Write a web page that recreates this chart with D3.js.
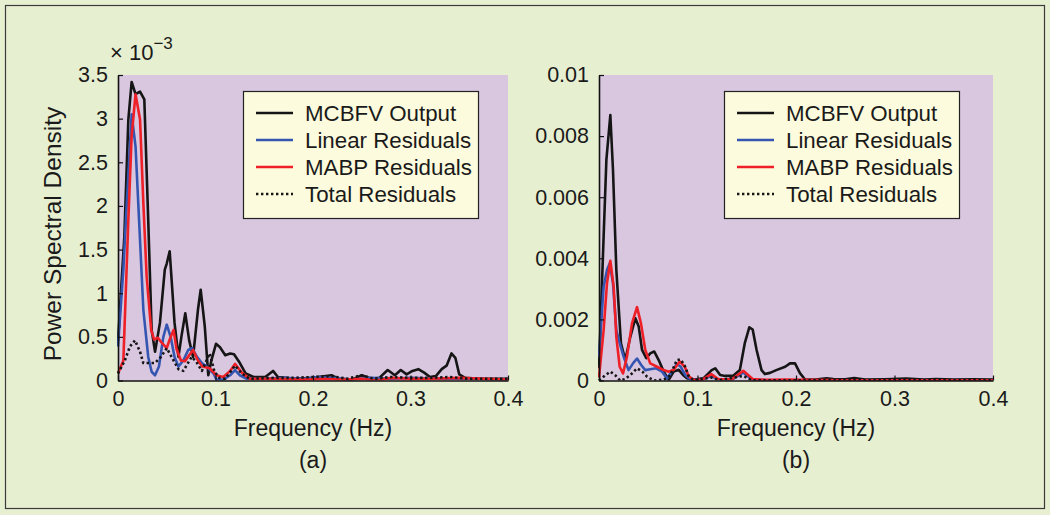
<!DOCTYPE html>
<html>
<head>
<meta charset="utf-8">
<script src="https://cdn.jsdelivr.net/npm/d3@7/dist/d3.min.js"></script>
<style>
  html, body { margin: 0; padding: 0; background: #e7efd1; }
  svg { display: block; }
  text { font-family: "Liberation Sans", Arial, Helvetica, sans-serif; fill: #1a1a1a; }
</style>
</head>
<body>
<svg id="chart" width="1050" height="515"></svg>
<script>
// ---------------- DATA ----------------
// Panel (a): values in units of 1e-3, [frequency Hz, PSD]
const aMcbfv = [[0,0.45],[0.0065,1.65],[0.0106,2.99],[0.014,3.42],[0.018,3.28],[0.0226,3.31],[0.027,3.22],[0.031,1.84],[0.0345,0.58],[0.038,0.33],[0.043,0.66],[0.048,1.27],[0.05,1.34],[0.053,1.48],[0.058,0.66],[0.062,0.27],[0.065,0.50],[0.069,0.77],[0.073,0.46],[0.077,0.27],[0.082,0.81],[0.0848,1.04],[0.089,0.62],[0.0926,0.06],[0.096,0.24],[0.1005,0.42],[0.1046,0.38],[0.11,0.29],[0.115,0.31],[0.119,0.30],[0.125,0.20],[0.131,0.08],[0.139,0.04],[0.151,0.04],[0.159,0.11],[0.164,0.04],[0.182,0.02],[0.199,0.03],[0.219,0.06],[0.226,0.02],[0.24,0.01],[0.25,0.06],[0.26,0.02],[0.268,0.03],[0.2766,0.12],[0.284,0.06],[0.29,0.12],[0.296,0.07],[0.302,0.11],[0.308,0.13],[0.314,0.09],[0.32,0.04],[0.326,0.05],[0.332,0.13],[0.337,0.17],[0.342,0.31],[0.346,0.26],[0.35,0.07],[0.356,0.03],[0.37,0.02],[0.4,0.02]];
const aLinear = [[0,0.39],[0.0055,1.27],[0.009,2.03],[0.014,3.05],[0.018,2.68],[0.0216,1.84],[0.026,0.81],[0.031,0.27],[0.0345,0.10],[0.038,0.06],[0.042,0.16],[0.0465,0.50],[0.05,0.64],[0.054,0.50],[0.058,0.27],[0.062,0.16],[0.067,0.23],[0.072,0.35],[0.076,0.37],[0.081,0.27],[0.086,0.20],[0.091,0.16],[0.098,0.08],[0.101,0.01],[0.108,0.01],[0.115,0.06],[0.12,0.12],[0.125,0.06],[0.132,0.02],[0.15,0.02],[0.17,0.03],[0.19,0.02],[0.205,0.04],[0.22,0.03],[0.24,0.01],[0.26,0.03],[0.28,0.02],[0.3,0.03],[0.33,0.02],[0.36,0.02],[0.4,0.01]];
const aMabp = [[0,0.08],[0.0055,0.23],[0.0106,1.84],[0.014,2.80],[0.018,3.28],[0.0226,2.99],[0.026,2.03],[0.0294,1.19],[0.034,0.58],[0.037,0.47],[0.041,0.49],[0.045,0.43],[0.05,0.37],[0.053,0.47],[0.057,0.58],[0.06,0.36],[0.0646,0.23],[0.0687,0.22],[0.073,0.29],[0.077,0.35],[0.082,0.23],[0.0865,0.16],[0.094,0.14],[0.101,0.06],[0.108,0.04],[0.115,0.11],[0.12,0.19],[0.127,0.09],[0.135,0.02],[0.16,0.02],[0.19,0.01],[0.21,0.02],[0.23,0.01],[0.25,0.02],[0.265,0.0],[0.28,0.03],[0.3,0.02],[0.32,0.02],[0.35,0.03],[0.4,0.01]];
const aTotal = [[0,0.08],[0.007,0.23],[0.0123,0.39],[0.0174,0.46],[0.0226,0.33],[0.026,0.2],[0.031,0.2],[0.038,0.2],[0.044,0.27],[0.05,0.37],[0.056,0.25],[0.062,0.13],[0.067,0.11],[0.0755,0.27],[0.08,0.22],[0.086,0.11],[0.094,0.31],[0.099,0.1],[0.104,0.03],[0.11,0.02],[0.12,0.17],[0.127,0.08],[0.135,0.02],[0.16,0.03],[0.18,0.03],[0.2,0.04],[0.219,0.05],[0.235,0.02],[0.25,0.06],[0.262,0.02],[0.28,0.04],[0.3,0.03],[0.32,0.03],[0.34,0.04],[0.36,0.02],[0.4,0.02]];

// Panel (b): values in units of 1e-3, [frequency Hz, PSD]
const bMcbfv = [[0,0.4],[0.0047,4.71],[0.0075,7.22],[0.0115,8.69],[0.0142,6.89],[0.0176,3.62],[0.0223,1.22],[0.0267,0.67],[0.0318,1.43],[0.0369,2.04],[0.0403,1.77],[0.0437,1.0],[0.048,0.73],[0.052,0.89],[0.056,0.95],[0.0606,0.67],[0.0657,0.29],[0.0708,0.02],[0.0758,0.29],[0.081,0.35],[0.0853,0.18],[0.0893,0.07],[0.095,0.02],[0.106,0.07],[0.1144,0.34],[0.118,0.40],[0.123,0.18],[0.128,0.15],[0.136,0.15],[0.143,0.34],[0.148,1.22],[0.1526,1.74],[0.156,1.67],[0.16,1.0],[0.165,0.34],[0.1685,0.21],[0.1736,0.25],[0.18,0.34],[0.189,0.45],[0.1939,0.56],[0.199,0.56],[0.204,0.24],[0.209,0.04],[0.22,0.03],[0.231,0.07],[0.238,0.05],[0.25,0.04],[0.259,0.08],[0.27,0.03],[0.29,0.04],[0.312,0.06],[0.33,0.03],[0.342,0.05],[0.36,0.03],[0.38,0.04],[0.4,0.03]];
const bLinear = [[0,0.78],[0.0047,3.07],[0.0081,3.62],[0.0109,3.84],[0.0142,3.18],[0.0176,1.65],[0.021,1.22],[0.025,0.78],[0.03,0.34],[0.0345,0.56],[0.0386,0.72],[0.043,0.5],[0.047,0.34],[0.052,0.37],[0.058,0.40],[0.064,0.29],[0.069,0.07],[0.074,0.29],[0.079,0.54],[0.083,0.45],[0.0876,0.18],[0.093,0.02],[0.105,0.02],[0.114,0.15],[0.12,0.04],[0.135,0.03],[0.1465,0.26],[0.155,0.03],[0.17,0.01],[0.4,0.01]];
const bMabp = [[0,0.1],[0.0047,1.65],[0.0081,3.18],[0.0115,3.92],[0.0149,3.07],[0.0176,1.43],[0.021,0.45],[0.0244,0.23],[0.0284,0.78],[0.0335,1.87],[0.0386,2.40],[0.0426,1.87],[0.047,1.0],[0.052,0.56],[0.059,0.45],[0.0657,0.34],[0.0708,0.29],[0.0758,0.35],[0.082,0.62],[0.087,0.45],[0.091,0.15],[0.096,0.02],[0.105,0.03],[0.114,0.21],[0.121,0.05],[0.135,0.04],[0.1465,0.32],[0.156,0.05],[0.17,0.02],[0.19,0.03],[0.25,0.01],[0.4,0.01]];
const bTotal = [[0,0],[0.0064,0.17],[0.0115,0.29],[0.0166,0.17],[0.0215,0.0],[0.0267,0.05],[0.0335,0.23],[0.0386,0.40],[0.044,0.29],[0.049,0.12],[0.056,0.0],[0.066,0.03],[0.0724,0.17],[0.079,0.67],[0.0827,0.69],[0.0868,0.5],[0.091,0.15],[0.096,0.01],[0.114,0.1],[0.122,0.01],[0.1465,0.15],[0.155,0.01],[0.4,0.01]];

const seriesNames = ["MCBFV Output", "Linear Residuals", "MABP Residuals", "Total Residuals"];
const xTicks = [0, 0.1, 0.2, 0.3, 0.4];
const xTickLabels = ["0", "0.1", "0.2", "0.3", "0.4"];
const aYTicks = [0, 0.5, 1, 1.5, 2, 2.5, 3, 3.5];
const aYTickLabels = ["0", "0.5", "1", "1.5", "2", "2.5", "3", "3.5"];
const bYTicks = [0, 2, 4, 6, 8, 10];
const bYTickLabels = ["0", "0.002", "0.004", "0.006", "0.008", "0.01"];
const xTitle = "Frequency (Hz)";
const yTitle = "Power Spectral Density";
const panelLabels = ["(a)", "(b)"];

// ---------------- STYLE ----------------
const styles = [
  { color: "#151515", dash: null },
  { color: "#3556b0", dash: null },
  { color: "#ee1f26", dash: null },
  { color: "#151515", dash: "2.4,2.6" }
];
const plotBg = "#d9c7e0";
const legendBg = "#fdfbdd";

const svg = d3.select("#chart");
svg.append("rect").attr("x", 5.5).attr("y", 5.5).attr("width", 1039).attr("height", 503)
  .attr("fill", "#e7efd1").attr("stroke", "#3a3a3a").attr("stroke-width", 1.2);

const plotTop = 75, plotBottom = 380.5;

function panel(cfg) {
  const x = d3.scaleLinear().domain([0, 0.4]).range([cfg.x0, cfg.x1]);
  const y = d3.scaleLinear().domain([0, cfg.yMax]).range([plotBottom, plotTop]);
  const g = svg.append("g");

  g.append("rect").attr("x", cfg.x0).attr("y", plotTop)
    .attr("width", cfg.x1 - cfg.x0).attr("height", plotBottom - plotTop).attr("fill", plotBg);

  const clipId = "clip" + cfg.id;
  svg.append("clipPath").attr("id", clipId).append("rect")
    .attr("x", cfg.x0 - 1).attr("y", plotTop - 2).attr("width", cfg.x1 - cfg.x0 + 2).attr("height", plotBottom - plotTop + 2);

  const line = d3.line().x(d => x(d[0])).y(d => y(Math.max(0, d[1]))).curve(d3.curveLinear);
  const lines = g.append("g").attr("clip-path", `url(#${clipId})`);
  cfg.series.forEach((s, i) => {
    lines.append("path").datum(s).attr("d", line)
      .attr("fill", "none").attr("stroke", styles[i].color)
      .attr("stroke-width", 2.6).attr("stroke-linejoin", "round")
      .attr("stroke-dasharray", styles[i].dash);
  });

  // axes
  const xAxis = d3.axisBottom(x).tickValues(xTicks).tickFormat((d, i) => xTickLabels[i])
    .tickSizeInner(-5).tickSizeOuter(0).tickPadding(10);
  const yAxis = d3.axisLeft(y).tickValues(cfg.yTicks).tickFormat((d, i) => cfg.yLabels[i])
    .tickSizeInner(-5).tickSizeOuter(0).tickPadding(10);
  const gx = g.append("g").attr("transform", `translate(0,${plotBottom})`).call(xAxis);
  const gy = g.append("g").attr("transform", `translate(${cfg.x0},0)`).call(yAxis);
  [gx, gy].forEach(a => {
    a.select(".domain").attr("stroke", "#111").attr("stroke-width", 1.6);
    a.selectAll(".tick line").attr("stroke", "#111").attr("stroke-width", 1.2);
    a.selectAll(".tick text").attr("font-size", 21.5).attr("fill", "#1a1a1a")
      .attr("font-family", '"Liberation Sans", Arial, sans-serif');
  });

  g.append("text").attr("x", (cfg.x0 + cfg.x1) / 2).attr("y", 436)
    .attr("text-anchor", "middle").attr("font-size", 23).text(xTitle);
  g.append("text").attr("x", (cfg.x0 + cfg.x1) / 2).attr("y", 468)
    .attr("text-anchor", "middle").attr("font-size", 23).text(cfg.label);

  // legend
  const lx = cfg.x0 + 125, ly = 91, lw = 235, lh = 127;
  const lg = g.append("g");
  lg.append("rect").attr("x", lx + 0.5).attr("y", ly + 0.5).attr("width", lw).attr("height", lh)
    .attr("fill", legendBg).attr("stroke", "#222").attr("stroke-width", 1.2);
  seriesNames.forEach((name, i) => {
    const cy = ly + 22 + i * 27;
    lg.append("line").attr("x1", lx + 13).attr("x2", lx + 50).attr("y1", cy).attr("y2", cy)
      .attr("stroke", styles[i].color).attr("stroke-width", 2.4)
      .attr("stroke-dasharray", styles[i].dash);
    lg.append("text").attr("x", lx + 62).attr("y", cy + 8).attr("font-size", 22.3).text(name);
  });
  return { x, y };
}

panel({ id: "a", x0: 118, x1: 508, yMax: 3.5, yTicks: aYTicks, yLabels: aYTickLabels,
        series: [aMcbfv, aLinear, aMabp, aTotal], label: panelLabels[0] });
panel({ id: "b", x0: 599, x1: 993, yMax: 10, yTicks: bYTicks, yLabels: bYTickLabels,
        series: [bMcbfv, bLinear, bMabp, bTotal], label: panelLabels[1] });

// y title and exponent
svg.append("text").attr("transform", "translate(61,234) rotate(-90)")
  .attr("text-anchor", "middle").attr("font-size", 24.5).text(yTitle);
const ex = svg.append("text").attr("x", 110).attr("y", 60).attr("font-size", 22);
ex.append("tspan").text("\u00d7 10");
ex.append("tspan").attr("dy", -11).attr("font-size", 17).text("\u22123");
</script>
</body>
</html>
